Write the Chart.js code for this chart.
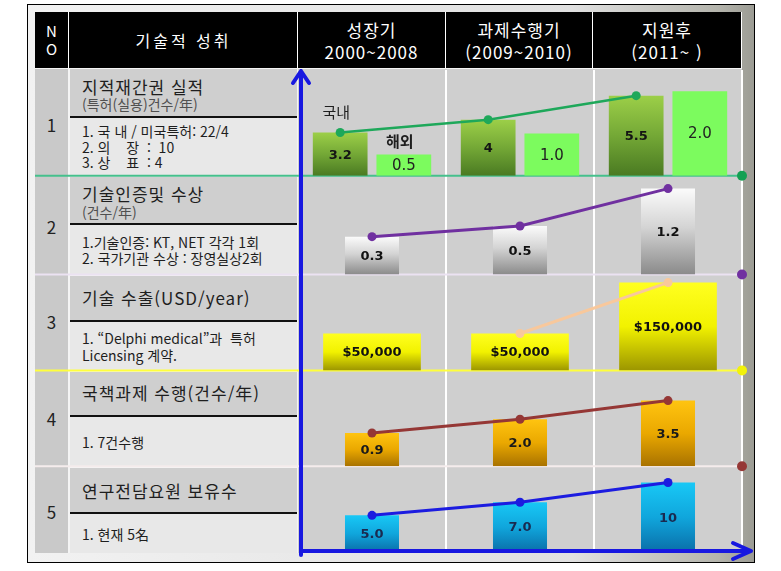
<!DOCTYPE html>
<html lang="ko">
<head>
<meta charset="utf-8">
<title>기술적 성취</title>
<script src="https://cdn.jsdelivr.net/npm/chart.js@4.4.1/dist/chart.umd.min.js"></script>
<style>
  html, body { margin: 0; padding: 0; background: #fff; }
  body { width: 781px; height: 571px; position: relative; overflow: hidden;
         font-family: "Noto Sans CJK KR", "Noto Sans", sans-serif; }
  .abs { position: absolute; }
  #frame { left: 27px; top: 4px; width: 726px; height: 557px; border: 1px solid #000;
           background: linear-gradient(to right, #f2f2f2 0%, #e0e0e0 75%, #b4b4ac 95%, #9c9c94 100%); }
  .hd { background: #000; color: #fff; top: 12px; height: 56px; text-align: center; }
  .vl { background: #fff; width: 1px; top: 12px; height: 56px; }
  .hd .two { position: absolute; left: 0; right: 0; top: 7px; line-height: 22px; font-size: 17px; letter-spacing: 1px; }
  .ttl { left: 70px; width: 227px; background: #cfcfcf; border-bottom: 2px solid #111; }
  .sub { left: 70px; width: 227px; background: #e8e8e8; }
  .no { left: 35px; width: 33px; text-align: center; font-size: 17px; line-height: 20px; color: #222; }
  .t { left: 82px; white-space: pre; color: #1e1e1e; line-height: 20px; }
  .big { font-size: 17px; letter-spacing: 1px; }
  .par { font-size: 14px; color: #505050; }
  .sm { font-size: 14px; }
  #chart { position: absolute; left: 0; top: 0; }
</style>
</head>
<body>
<div id="frame" class="abs"></div>

<!-- header -->
<div class="abs hd" style="left:35px;width:707px"></div>
<div class="abs hd" style="left:35px;width:33px">
  <div class="two" style="font-size:15px;line-height:18px;top:10px;letter-spacing:0">N<br>O</div>
</div>
<div class="abs hd" style="left:70px;width:227px">
  <div class="two" style="top:17px;font-size:16px;letter-spacing:3px">기술적 성취</div>
</div>
<div class="abs hd" style="left:298px;width:147px"><div class="two">성장기<br>2000~2008</div></div>
<div class="abs hd" style="left:446px;width:146px"><div class="two">과제수행기<br>(2009~2010)</div></div>
<div class="abs hd" style="left:593px;width:148px"><div class="two">지원후<br>(2011~ )</div></div>
<div class="abs vl" style="left:68px"></div>
<div class="abs vl" style="left:297px"></div>
<div class="abs vl" style="left:445px"></div>
<div class="abs vl" style="left:592px"></div>
<div class="abs vl" style="left:741px"></div>

<!-- body -->
<div class="abs" style="left:35px;top:68px;width:707px;height:485px;background:#f4f4f4"></div>
<div class="abs" style="left:35px;top:69px;width:33px;height:484px;background:#c9c9c9"></div>
<div class="abs" style="left:298px;top:69px;width:444px;height:484px;background:#cfcfcf"></div>

<div class="abs ttl" style="top:69px;height:47px"></div>
<div class="abs sub" style="top:118px;height:57px"></div>
<div class="abs ttl" style="top:177px;height:46px"></div>
<div class="abs sub" style="top:225px;height:49px"></div>
<div class="abs ttl" style="top:276px;height:44px"></div>
<div class="abs sub" style="top:322px;height:48px"></div>
<div class="abs ttl" style="top:372px;height:43px"></div>
<div class="abs sub" style="top:417px;height:49px"></div>
<div class="abs ttl" style="top:468px;height:44px"></div>
<div class="abs sub" style="top:514px;height:39px"></div>

<div class="abs no" style="top:115px">1</div>
<div class="abs no" style="top:217px">2</div>
<div class="abs no" style="top:312px">3</div>
<div class="abs no" style="top:409px">4</div>
<div class="abs no" style="top:502px">5</div>

<div class="abs t big" style="top:77px">지적재간권 실적</div>
<div class="abs t par" style="top:94px">(특허(실용)건수/年)</div>
<div class="abs t sm" style="top:121px">1. 국 내 / 미국특허: 22/4</div>
<div class="abs t sm" style="top:137px">2. 의    장  :  10</div>
<div class="abs t sm" style="top:152px">3. 상    표  : 4</div>

<div class="abs t big" style="top:184px">기술인증및 수상</div>
<div class="abs t par" style="top:202px">(건수/年)</div>
<div class="abs t sm" style="top:232px">1.기술인증: KT, NET 각각 1회</div>
<div class="abs t sm" style="top:248px">2. 국가기관 수상 : 장영실상2회</div>

<div class="abs t big" style="top:288px">기술 수출(USD/year)</div>
<div class="abs t sm" style="top:328px">1. “Delphi medical”과  특허</div>
<div class="abs t sm" style="top:345px">Licensing 계약.</div>

<div class="abs t big" style="top:383px">국책과제 수행(건수/年)</div>
<div class="abs t sm" style="top:432px">1. 7건수행</div>

<div class="abs t big" style="top:481px">연구전담요원 보유수</div>
<div class="abs t sm" style="top:524px">1. 현재 5名</div>

<canvas id="chart" width="781" height="571"></canvas>

<script>
// periods (columns)
const periods = ["성장기", "과제수행기", "지원후"];

// values per row
const patentDomestic = [3.2, 4, 5.5];
const patentOverseas = [0.5, 1.0, 2.0];
const certAwards = [0.3, 0.5, 1.2];
const techExport = [50000, 50000, 150000];
const techExportTrend = [null, 50000, 150000];
const govProjects = [0.9, 2.0, 3.5];
const researchers = [5, 7, 10];

// one value axis per table row, top to bottom
const rowAxes = ["y1", "y2", "y3", "y4", "y5"];
const sepColors = ["#45c08c", "#ebe2f2", "#ffff3c", "#f5ecec"];
const dotColors = ["#13a052", "#7030a0", "#f2f20a", "#953735"];

// vertical gradient for each bar, from its top to its base
function barFill(stops) {
  return (c) => {
    const ds = c.dataset;
    const ys = c.chart.scales[ds.yAxisID];
    if (!ys || c.raw == null) return stops[1][1];
    const top = ys.getPixelForValue(c.raw);
    const bottom = ys.getPixelForValue(ds.base);
    if (!isFinite(top) || !isFinite(bottom)) return stops[1][1];
    const g = c.chart.ctx.createLinearGradient(0, top, 0, bottom);
    stops.forEach(([o, col]) => g.addColorStop(o, col));
    return g;
  };
}

const fixed1 = (v) => v.toFixed(1);

const tablePlugin = {
  id: "tableChart",
  afterDatasetsUpdate(chart) {
    // row 1 trend line follows the domestic bars
    chart.data.datasets.forEach((ds, i) => {
      if (ds.alignTo === undefined) return;
      const pts = chart.getDatasetMeta(i).data;
      const bars = chart.getDatasetMeta(ds.alignTo).data;
      pts.forEach((p, j) => { if (bars[j]) p.x = bars[j].x; });
    });
  },
  beforeDatasetsDraw(chart) {
    const { ctx, chartArea: a, scales } = chart;
    const x = scales.x;
    ctx.save();
    ctx.strokeStyle = "#ffffff";
    ctx.lineWidth = 2;
    for (let i = 1; i <= periods.length; i++) {
      const px = i < periods.length
        ? (x.getPixelForValue(i - 1) + x.getPixelForValue(i)) / 2
        : a.right;
      ctx.beginPath();
      ctx.moveTo(px, a.top);
      ctx.lineTo(px, a.bottom);
      ctx.stroke();
    }
    rowAxes.slice(0, -1).forEach((id, i) => {
      const y = scales[id].bottom;
      ctx.strokeStyle = sepColors[i];
      ctx.lineWidth = 2;
      ctx.beginPath();
      ctx.moveTo(35, y);
      ctx.lineTo(a.right, y);
      ctx.stroke();
      ctx.fillStyle = dotColors[i];
      ctx.beginPath();
      ctx.arc(a.right, y, 5, 0, Math.PI * 2);
      ctx.fill();
    });
    ctx.restore();
  },
  afterDatasetsDraw(chart) {
    const { ctx, chartArea: a } = chart;
    ctx.save();
    ctx.textAlign = "center";
    ctx.textBaseline = "middle";
    chart.data.datasets.forEach((ds, i) => {
      if (!ds.fmt) return;
      const bars = chart.getDatasetMeta(i).data;
      ctx.font = ds.labelFont;
      ctx.fillStyle = ds.labelColor;
      bars.forEach((b, j) => {
        ctx.fillText(ds.fmt(ds.data[j]), b.x, (b.y + b.base) / 2 + 1);
      });
      if (ds.tag) {
        ctx.font = ds.tagFont;
        ctx.fillStyle = "#1e1e1e";
        ctx.fillText(ds.tag, bars[0].x - 4, bars[0].y - ds.tagGap);
      }
    });

    // blue axes with arrow heads
    const x0 = a.left + 3;
    const y0 = a.bottom - 1;
    ctx.strokeStyle = "#1818e0";
    ctx.lineWidth = 4;
    ctx.lineCap = "round";
    ctx.lineJoin = "round";
    ctx.beginPath();
    ctx.moveTo(x0, a.bottom + 3);
    ctx.lineTo(x0, a.top + 1);
    ctx.moveTo(x0 - 8, a.top + 13);
    ctx.lineTo(x0, a.top + 1);
    ctx.lineTo(x0 + 8, a.top + 13);
    ctx.moveTo(x0, y0);
    ctx.lineTo(a.right + 9, y0);
    ctx.moveTo(a.right - 9, y0 - 8);
    ctx.lineTo(a.right + 9, y0);
    ctx.lineTo(a.right - 9, y0 + 8);
    ctx.stroke();
    ctx.restore();
  }
};

const lineStyle = (color, width) => ({
  type: "line",
  borderColor: color,
  backgroundColor: color,
  borderWidth: width,
  pointRadius: 4.5,
  pointBorderWidth: 0,
  tension: 0,
  order: 0
});

const hidden = { display: false };
const rowScale = (min, max, weight, stackWeight, position) => ({
  type: "linear", position: position, stack: position, stackWeight: stackWeight,
  weight: weight, min: min, max: max, display: false
});

new Chart(document.getElementById("chart"), {
  type: "bar",
  data: {
    labels: periods,
    datasets: [
      {
        label: "국내", tag: "국내", tagGap: 20, tagFont: "15px 'Noto Sans CJK KR'",
        data: patentDomestic, yAxisID: "y1", base: 0.5,
        categoryPercentage: 0.86, barPercentage: 0.86,
        backgroundColor: barFill([[0, "#9ccf48"], [0.5, "#74a836"], [1, "#4a7a22"]]),
        fmt: (v) => String(v), labelFont: "bold 13px 'DejaVu Sans'", labelColor: "#141414", order: 1
      },
      {
        label: "해외", tag: "해외", tagGap: 13, tagFont: "bold 15px 'Noto Sans CJK KR'",
        data: patentOverseas, yAxisID: "r1", base: 0,
        categoryPercentage: 0.86, barPercentage: 0.86,
        backgroundColor: "#7cfb5e",
        fmt: fixed1, labelFont: "15px 'DejaVu Sans'", labelColor: "#222", order: 1
      },
      {
        label: "기술인증 및 수상", data: certAwards, yAxisID: "y2", base: -0.41,
        grouped: false, categoryPercentage: 1, barPercentage: 0.365,
        backgroundColor: barFill([[0, "#fbfbfb"], [0.45, "#d4d4d4"], [1, "#8a8a8a"]]),
        fmt: fixed1, labelFont: "bold 13px 'DejaVu Sans'", labelColor: "#111", order: 1
      },
      {
        label: "기술 수출", data: techExport, yAxisID: "y3", base: -22500,
        grouped: false, categoryPercentage: 1, barPercentage: 0.66,
        backgroundColor: barFill([[0, "#ffff20"], [0.5, "#f2f200"], [1, "#9c9600"]]),
        fmt: (v) => "$" + v.toLocaleString("en-US"), labelFont: "bold 13px 'DejaVu Sans'", labelColor: "#111", order: 1
      },
      {
        label: "국책과제 수행", data: govProjects, yAxisID: "y4", base: -1.77,
        grouped: false, categoryPercentage: 1, barPercentage: 0.365,
        backgroundColor: barFill([[0, "#ffc410"], [0.5, "#eaa800"], [1, "#a87200"]]),
        fmt: fixed1, labelFont: "bold 13px 'DejaVu Sans'", labelColor: "#1a1a1a", order: 1
      },
      {
        label: "연구전담요원", data: researchers, yAxisID: "y5", base: -0.6,
        grouped: false, categoryPercentage: 1, barPercentage: 0.365,
        backgroundColor: barFill([[0, "#18c8f6"], [0.5, "#10a6dc"], [1, "#0a6ea8"]]),
        fmt: (v) => (v < 10 ? v.toFixed(1) : String(v)), labelFont: "bold 13px 'DejaVu Sans'", labelColor: "#1a2a50", order: 1
      },
      Object.assign(lineStyle("#1ea85a", 2.5), { data: patentDomestic, yAxisID: "y1", alignTo: 0 }),
      Object.assign(lineStyle("#7030a0", 3), { data: certAwards, yAxisID: "y2" }),
      Object.assign(lineStyle("#f8c89c", 3), { data: techExportTrend, yAxisID: "y3" }),
      Object.assign(lineStyle("#953735", 3), { data: govProjects, yAxisID: "y4" }),
      Object.assign(lineStyle("#1c1ce0", 3), { data: researchers, yAxisID: "y5" })
    ]
  },
  options: {
    responsive: false,
    devicePixelRatio: 1,
    animation: false,
    events: [],
    layout: { padding: { left: 298, right: 39, top: 70, bottom: 19 } },
    plugins: { legend: hidden, tooltip: { enabled: false } },
    scales: {
      x: { type: "category", offset: true, display: false },
      y1: rowScale(0.5, 7.1, 5, 106, "left"),
      y2: rowScale(-0.41, 1.44, 4, 99, "left"),
      y3: rowScale(-22500, 165700, 3, 96, "left"),
      y4: rowScale(-1.77, 5.93, 2, 96, "left"),
      y5: rowScale(-0.6, 12.5, 1, 86, "left"),
      r1: rowScale(0, 2.5, 1, 106, "right"),
      r2: rowScale(0, 1, 2, 99, "right"),
      r3: rowScale(0, 1, 3, 96, "right"),
      r4: rowScale(0, 1, 4, 96, "right"),
      r5: rowScale(0, 1, 5, 86, "right")
    }
  },
  plugins: [tablePlugin]
});
</script>
</body>
</html>
